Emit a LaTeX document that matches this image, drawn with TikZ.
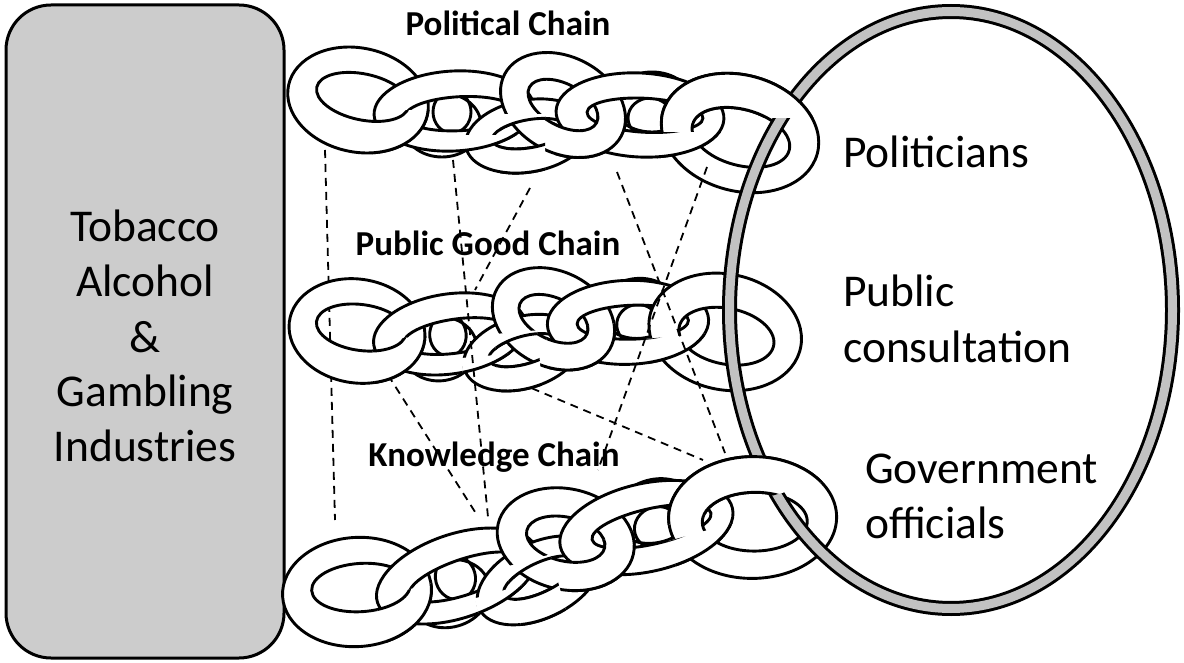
\documentclass[tikz,border=0pt]{standalone}
\usepackage{fontspec}
\setmainfont{Carlito}
\definecolor{boxgray}{gray}{0.80}
\definecolor{ringgray}{gray}{0.76}
\tikzset{
  linkst/.style={draw=black, fill=white, line width=2.9pt, even odd rule},
  dashst/.style={draw=black, line width=1.8pt, dash pattern=on 8pt off 6pt},
  bigtext/.style={font=\fontsize{45.5}{54}\selectfont, inner sep=0pt},
  titletext/.style={font=\bfseries\fontsize{35}{41}\selectfont, inner sep=0pt},
}
% #1 cx, #2 cy, #3 rx, #4 ry, #5 rot (visual ccw), #6 hx, #7 hy, #8 hdx, #9 hdy
\newcommand{\clink}[9]{%
  \begin{scope}[shift={(#1,#2)}, rotate=#5]
    \path[linkst] (0,0) ellipse[x radius=#3, y radius=#4] (#8,#9) ellipse[x radius=#6, y radius=#7];
  \end{scope}}
\newcommand{\LkA}{\clink{358}{100}{71}{52}{-12}{47}{23}{4}{-4}}
\newcommand{\LkB}{\clink{454}{111}{80}{40}{3}{55}{17}{6}{3}}
\newcommand{\LkC}{\clink{528}{136}{63}{36}{10}{38}{14}{2}{-2}}
\newcommand{\LkD}{\clink{563}{105}{66}{48}{-28}{38}{21}{0}{0}}
\newcommand{\LkE}{\clink{640}{115}{84}{42}{-3}{58}{17}{5}{0}}
\newcommand{\LkF}{\clink{740}{133}{80}{58}{-15}{50}{28}{2}{4}}
\newcommand{\chainbody}{%
  \clink{442}{125}{39}{32}{0}{19}{21}{10}{-13}
  \clink{652}{102}{40}{30}{0}{22}{20}{-2}{16}
  \LkA \LkB
  \begin{scope}\clip (372,111) rectangle (433,170); \LkA \end{scope}
  \LkC
  \begin{scope}\clip (464,136) rectangle (537,195); \LkB \end{scope}
  \LkD
  \begin{scope}\clip (500,115) rectangle (545,175); \LkC \end{scope}
  \LkE
  \begin{scope}\clip (554,115) rectangle (628,175); \LkD \end{scope}
  \LkF
  \begin{scope}\clip (657,133) rectangle (727,200); \LkE \end{scope}
}
\newcommand{\chainfront}{\begin{scope}\clip (650,40) rectangle (840,118); \LkF \end{scope}}
\begin{document}
\begin{tikzpicture}[x=1pt,y=-1pt]
\useasboundingbox (0,0) rectangle (1184,663);
\fill[white] (0,0) rectangle (1184,663);
% industry box
\node[draw=black, fill=boxgray, line width=3pt, rounded corners=45pt,
      minimum width=278pt, minimum height=653pt] (ind) at (145,331.5) {};
\node[bigtext, anchor=base] (t1) at (145,242) {Tobacco};
\node[bigtext, anchor=base] (t2) at (145,297) {Alcohol};
\node[bigtext, anchor=base] (t3) at (145,352) {\&};
\node[bigtext, anchor=base] (t4) at (145,406) {Gambling};
\node[bigtext, anchor=base] (t5) at (145,461) {Industries};
% dashed links behind the chains
\coordinate (d1a) at (325,150); \coordinate (d1b) at (335,520);
\coordinate (d3a) at (530,188); \coordinate (d3b) at (475,290);
\coordinate (d6a) at (388,375); \coordinate (d6b) at (477,515);
\coordinate (d7a) at (493,372); \coordinate (d7b) at (703,460);
\draw[dashst] (d1a) -- (d1b);
\draw[dashst] (d3a) -- (d3b);
\draw[dashst] (d6a) -- (d6b);
\draw[dashst] (d7a) -- (d7b);
% chains
\chainbody
\begin{scope}[shift={(357,331)}, rotate=5, xscale=0.96, shift={(-358,-100)}]
  \chainbody
\end{scope}
\begin{scope}[shift={(357,592)}, rotate=15.6, scale=1.05, shift={(-358,-100)}]
  \chainbody
\end{scope}
% ring of government
\draw[black, line width=15pt] (951,310) ellipse[x radius=221.5, y radius=298.5];
\draw[ringgray, line width=9pt] (951,310) ellipse[x radius=221.5, y radius=298.5];
\chainfront
\begin{scope}[shift={(357,592)}, rotate=15.6, scale=1.05, shift={(-358,-100)}]
  \chainfront
\end{scope}
% dashed links drawn over the middle chain
\coordinate (d2a) at (453,160); \coordinate (d2b) at (488,517);
\coordinate (d4a) at (617,172); \coordinate (d4b) at (725,453);
\coordinate (d5a) at (707,167); \coordinate (d5b) at (598,470);
\draw[dashst] (d2a) -- (d2b);
\draw[dashst] (d4a) -- (d4b);
\draw[dashst] (d5a) -- (d5b);
% titles
\node[titletext, anchor=base] (c1) at (508,36) {Political Chain};
\node[titletext, anchor=base] (c2) at (488,256) {Public Good Chain};
\node[titletext, anchor=base] (c3) at (494,466) {Knowledge Chain};
% government labels
\node[bigtext, anchor=base west] (g1) at (843,168) {Politicians};
\node[bigtext, anchor=base west] (g2) at (843,306) {Public};
\node[bigtext, anchor=base west] (g3) at (843,362) {consultation};
\node[bigtext, anchor=base west] (g4) at (865,483) {Government};
\node[bigtext, anchor=base west] (g5) at (865,538) {officials};
\end{tikzpicture}
\end{document}
